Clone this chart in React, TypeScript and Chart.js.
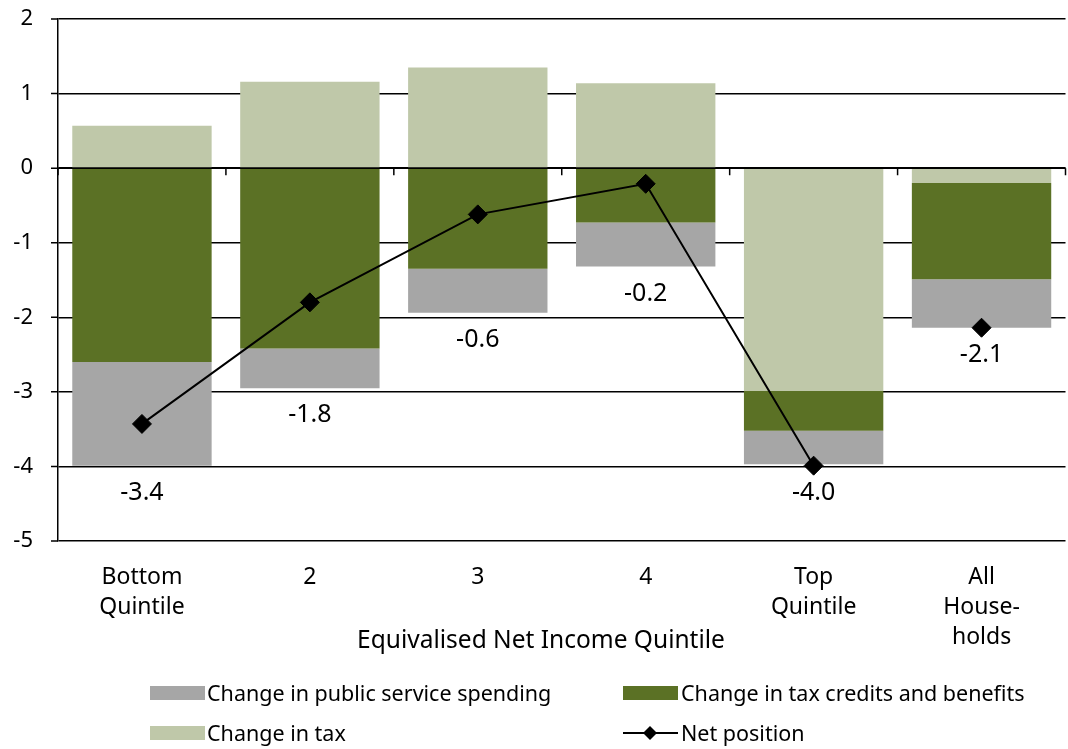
import React, { useEffect, useRef } from "react";
import { Chart, registerables } from "chart.js";

Chart.register(...registerables);

const categories: (string | string[])[] = [
  ["Bottom", "Quintile"],
  "2",
  "3",
  "4",
  ["Top", "Quintile"],
  ["All", "House-", "holds"],
];
const taxChange = [0.57, 1.16, 1.35, 1.14, -2.99, -0.2];
const creditsChange = [-2.6, -2.42, -1.35, -0.73, -0.53, -1.29];
const spendingChange = [-1.39, -0.53, -0.59, -0.59, -0.45, -0.65];
const netPosition = [-3.43, -1.8, -0.62, -0.21, -3.99, -2.14];
const yTicks = [2, 1, 0, -1, -2, -3, -4, -5];
// the "All households" point is not joined to the quintile line
const unjoinedIndex = 5;

const COLORS = {
  spending: "#A6A6A6",
  credits: "#5B7125",
  tax: "#BFC8A9",
};
const FONT = "'Noto Sans', 'DejaVu Sans', sans-serif";

const overlayPlugin = {
  id: "overlay",
  afterDatasetsDraw(chart: any) {
    const { ctx, chartArea } = chart;
    const ys = chart.scales.y;
    const y0 = ys.getPixelForValue(0);
    ctx.save();
    ctx.strokeStyle = "#000";
    ctx.lineWidth = 1.5;
    ctx.beginPath();
    // outer tick marks on the value axis
    yTicks.forEach((v) => {
      const y = ys.getPixelForValue(v);
      ctx.moveTo(chartArea.left - 7, y);
      ctx.lineTo(chartArea.left, y);
    });
    // horizontal category axis at zero, with its tick marks
    ctx.moveTo(chartArea.left, y0);
    ctx.lineTo(chartArea.right, y0);
    const n = categories.length;
    const w = (chartArea.right - chartArea.left) / n;
    for (let i = 0; i <= n; i++) {
      const x = chartArea.left + i * w;
      ctx.moveTo(x, y0);
      ctx.lineTo(x, y0 + 7);
    }
    ctx.stroke();
    ctx.restore();
  },
  afterDraw(chart: any) {
    const { ctx } = chart;
    const xs = chart.scales.x;
    const ys = chart.scales.y;
    ctx.save();
    ctx.fillStyle = "#000";
    ctx.font = `25px ${FONT}`;
    ctx.textAlign = "center";
    ctx.textBaseline = "middle";
    netPosition.forEach((v, i) => {
      let neg = 0;
      [taxChange[i], creditsChange[i], spendingChange[i]].forEach((s) => {
        if (s < 0) neg += s;
      });
      const low = Math.min(neg, v);
      const x = xs.getPixelForValue(i);
      const y = ys.getPixelForValue(low) + 27;
      ctx.fillText(v.toFixed(1), x, y);
    });
    ctx.restore();
  },
};

export default function App() {
  const ref = useRef<HTMLCanvasElement | null>(null);
  useEffect(() => {
    document.body.style.margin = "0";
    const canvas = ref.current!;
    const chart = new Chart(canvas, {
      type: "bar",
      data: {
        labels: categories,
        datasets: [
          {
            type: "line",
            label: "Net position",
            data: netPosition,
            borderColor: "#000",
            backgroundColor: "#000",
            borderWidth: 2,
            pointStyle: "rectRot",
            pointRadius: 9.5,
            pointBorderWidth: 1,
            pointBackgroundColor: "#000",
            segment: {
              borderColor: (c: any) => (c.p1DataIndex === unjoinedIndex ? "rgba(0,0,0,0)" : "#000"),
            },
            stack: "net",
            order: 0,
          } as any,
          {
            label: "Change in tax",
            data: taxChange,
            backgroundColor: COLORS.tax,
            stack: "bars",
            order: 1,
            barPercentage: 0.83,
            categoryPercentage: 1,
          },
          {
            label: "Change in tax credits and benefits",
            data: creditsChange,
            backgroundColor: COLORS.credits,
            stack: "bars",
            order: 1,
            barPercentage: 0.83,
            categoryPercentage: 1,
          },
          {
            label: "Change in public service spending",
            data: spendingChange,
            backgroundColor: COLORS.spending,
            stack: "bars",
            order: 1,
            barPercentage: 0.83,
            categoryPercentage: 1,
          },
        ],
      },
      options: {
        animation: false,
        responsive: false,
        devicePixelRatio: 1,
        layout: { padding: { top: 19, right: 2, left: 0, bottom: 0 } },
        plugins: {
          legend: { display: false },
          tooltip: { enabled: false },
        },
        scales: {
          x: {
            stacked: true,
            grid: { display: false, drawTicks: false },
            border: { display: false },
            ticks: {
              color: "#000",
              padding: 21,
              font: { family: FONT, size: 23, lineHeight: "30px" } as any,
              maxRotation: 0,
              autoSkip: false,
            },
            afterFit(scale: any) {
              scale.height = 208;
            },
          },
          y: {
            stacked: true,
            min: -5,
            max: 2,
            afterBuildTicks(scale: any) {
              scale.ticks = yTicks.map((v) => ({ value: v }));
            },
            ticks: {
              color: "#000",
              padding: 0,
              font: { family: FONT, size: 22 },
            },
            grid: {
              color: "#000",
              lineWidth: 1.5,
              tickLength: 25,
              tickColor: "rgba(0,0,0,0)",
              drawTicks: true,
            },
            border: { display: true, color: "#000", width: 1.5 },
            afterFit(scale: any) {
              scale.width = 58;
            },
          },
        },
      },
      plugins: [overlayPlugin],
    });
    return () => chart.destroy();
  }, []);

  const legendText: React.CSSProperties = {
    position: "absolute",
    fontFamily: FONT,
    fontSize: 21.5,
    color: "#000",
    lineHeight: "26px",
    whiteSpace: "nowrap",
    transform: "translateY(-50%)",
  };
  const swatch = (left: number, top: number, color: string): React.CSSProperties => ({
    position: "absolute",
    left,
    top,
    width: 55,
    height: 14,
    background: color,
  });

  return (
    <div style={{ position: "relative", width: 1068, height: 749, overflow: "hidden", background: "#fff" }}>
      <canvas ref={ref} width={1076} height={749} style={{ width: 1076, height: 749, display: "block" }} />
      <div
        style={{
          position: "absolute",
          left: 541,
          top: 638,
          transform: "translate(-50%, -50%)",
          fontFamily: FONT,
          fontSize: 24.5,
          color: "#000",
          whiteSpace: "nowrap",
        }}
      >
        Equivalised Net Income Quintile
      </div>
      <div style={swatch(150, 686, COLORS.spending)} />
      <div style={{ ...legendText, left: 207, top: 693 }}>Change in public service spending</div>
      <div style={swatch(623, 686, COLORS.credits)} />
      <div style={{ ...legendText, left: 681, top: 693 }}>Change in tax credits and benefits</div>
      <div style={swatch(150, 726, COLORS.tax)} />
      <div style={{ ...legendText, left: 207, top: 733 }}>Change in tax</div>
      <svg style={{ position: "absolute", left: 623, top: 723 }} width={56} height={20}>
        <line x1={0} y1={10} x2={55} y2={10} stroke="#000" strokeWidth={2} />
        <polygon points="27,3 34,10 27,17 20,10" fill="#000" />
      </svg>
      <div style={{ ...legendText, left: 681, top: 733 }}>Net position</div>
    </div>
  );
}
